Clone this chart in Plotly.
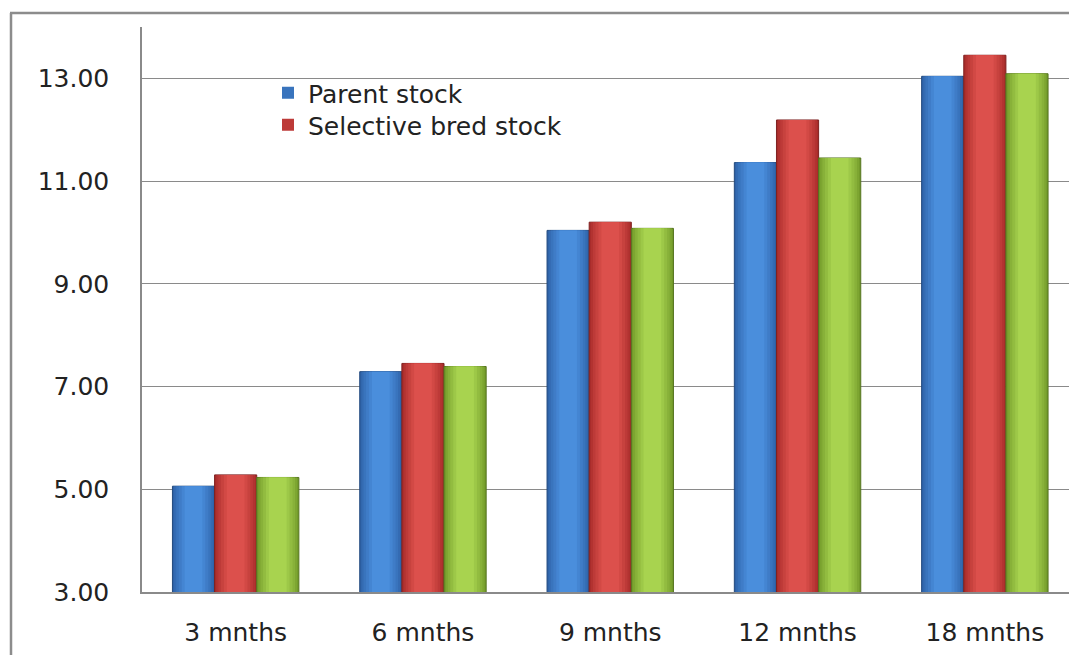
import plotly.graph_objects as go

categories = ["3 mnths", "6 mnths", "9 mnths", "12 mnths", "18 mnths"]
parent_stock = [5.06, 7.29, 10.04, 11.36, 13.04]
selective_bred = [5.28, 7.45, 10.20, 12.19, 13.45]
third_series = [5.23, 7.39, 10.08, 11.45, 13.09]
series_names = ["Parent stock", "Selective bred stock", ""]
y_ticks = [3, 5, 7, 9, 11, 13]

# (edge, centre) colours per series
palettes = [
    ((0x2E, 0x62, 0xA8), (0x4A, 0x8E, 0xDC)),
    ((0xA8, 0x2C, 0x2A), (0xDC, 0x50, 0x4C)),
    ((0x72, 0x9A, 0x2A), (0xA8, 0xD3, 0x4F)),
]

W, H = 1069, 655
L, R, T, B = 142, 0, 27, 63
FONT = "DejaVu Sans"
FS = 25

plot_w = W - L - R
plot_h = H - T - B
cat_w = 187.3
x_max = -0.5 + plot_w / cat_w

def px_x(p):
    return (p - L) / plot_w

def px_y(p):
    return (H - B - p) / plot_h

def mix(c0, c1, t):
    return "rgb(%d,%d,%d)" % tuple(round(a + (b - a) * t) for a, b in zip(c0, c1))

bargap = 0.325
bw = (1 - bargap) / 3
fracs = [1.0, 0.92, 0.82, 0.70, 0.56, 0.42]
legend_layer = 2

fig = go.Figure()
all_series = [parent_stock, selective_bred, third_series]
legend_ids = ["legend", "legend2", None]
for k, (vals, name, pal) in enumerate(zip(all_series, series_names, palettes)):
    left = -(1 - bargap) / 2 + k * bw
    for i, frac in enumerate(fracs):
        w = bw * frac
        off = left + (bw - w) / 2
        t = i / (len(fracs) - 1)
        col = mix(pal[0], pal[1], t)
        show = (i == legend_layer) and legend_ids[k] is not None
        kw = dict(showlegend=show)
        if show:
            kw["legend"] = legend_ids[k]
        fig.add_trace(go.Bar(
            x=categories, y=vals, name=name,
            width=[w] * len(categories), offset=[off] * len(categories),
            marker=dict(color=col,
                        line=dict(color=mix(pal[0], (0, 0, 0), 0.25), width=1 if i == 0 else 0)),
            hoverinfo="skip" if i else None,
            **kw,
        ))

legend_common = dict(xanchor="left", yanchor="middle", bgcolor="rgba(0,0,0,0)",
                     font=dict(family=FONT, size=FS, color="#222222"),
                     itemwidth=30, borderwidth=0)

fig.update_layout(
    width=W, height=H,
    margin=dict(l=L, r=R, t=T, b=B, pad=0),
    paper_bgcolor="white", plot_bgcolor="white",
    barmode="overlay",
    font=dict(family=FONT, size=FS, color="#222222"),
    showlegend=True,
    legend=dict(x=px_x(268), y=px_y(93), **legend_common),
    legend2=dict(x=px_x(268), y=px_y(125), **legend_common),
    xaxis=dict(type="category", range=[-0.5, x_max], showgrid=False,
               showline=True, linecolor="#8A8A8A", linewidth=1.5,
               ticks="", ticklabelstandoff=17, fixedrange=True),
    yaxis=dict(range=[3, 14], tickvals=y_ticks, tickformat=".2f",
               showgrid=True, gridcolor="#8A8A8A", gridwidth=1,
               showline=True, linecolor="#8A8A8A", linewidth=1.5,
               ticks="", ticklabelstandoff=26, zeroline=False),
    shapes=[
        dict(type="line", xref="paper", yref="paper",
             x0=px_x(11), x1=px_x(11), y0=px_y(13), y1=px_y(H + 5),
             line=dict(color="#8C8C8C", width=2.5)),
        dict(type="line", xref="paper", yref="paper",
             x0=px_x(10), x1=px_x(W + 5), y0=px_y(13), y1=px_y(13),
             line=dict(color="#8C8C8C", width=2.5)),
    ],
)

fig.write_html("out.html")
